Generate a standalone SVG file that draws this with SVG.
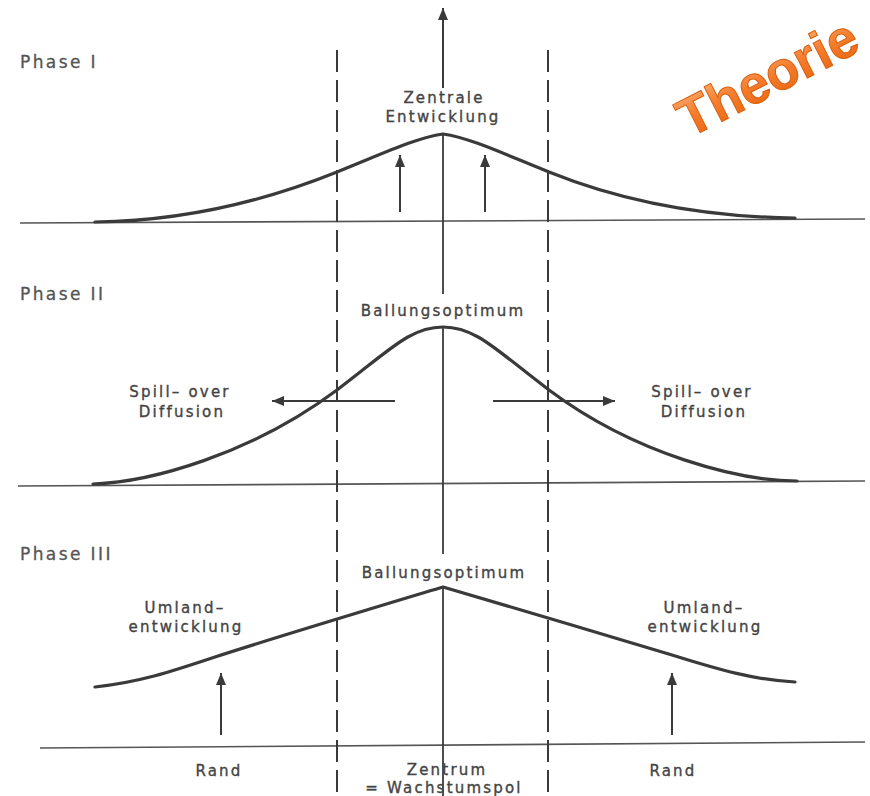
<svg xmlns="http://www.w3.org/2000/svg" width="870" height="796" viewBox="0 0 870 796">
<defs>
<marker id="ah" markerUnits="userSpaceOnUse" markerWidth="14" markerHeight="12" refX="12" refY="5" orient="auto">
<path d="M0,0 L12,5 L0,10 z" fill="#3a3a3a"/>
</marker>
<linearGradient id="og" x1="0" y1="0" x2="0" y2="1">
<stop offset="0" stop-color="#FBB27A"/>
<stop offset="0.5" stop-color="#F47C2C"/>
<stop offset="1" stop-color="#E8650F"/>
</linearGradient>
</defs>
<style>
.t{font-family:"DejaVu Sans",sans-serif;font-size:15px;letter-spacing:2.2px;fill:#444;stroke:#444;stroke-width:0.35;text-anchor:middle}
.ph{font-family:"DejaVu Sans",sans-serif;font-size:17px;letter-spacing:2.4px;fill:#555;stroke:#555;stroke-width:0.3}
.curve{fill:none;stroke:#3a3a3a;stroke-width:3.2;stroke-linejoin:round;stroke-linecap:round}
.base{fill:none;stroke:#555;stroke-width:1.6}
.axis{fill:none;stroke:#3a3a3a;stroke-width:1.8}
.dash{fill:none;stroke:#3a3a3a;stroke-width:2;stroke-dasharray:22 8}
.arr{fill:none;stroke:#3a3a3a;stroke-width:2;marker-end:url(#ah)}
</style>
<rect width="870" height="796" fill="#fff"/>

<g id="title">
<text x="776" y="94" transform="rotate(-27 776 94)" font-family="'Liberation Sans',sans-serif" font-weight="bold" font-size="54" text-anchor="middle" fill="url(#og)" stroke="#D9600E" stroke-width="1">Theorie</text>
</g>

<g id="connectors">
<line class="base" x1="20" y1="223" x2="865" y2="219"/>
<line class="base" x1="18" y1="486" x2="865" y2="481"/>
<line class="base" x1="40" y1="748" x2="865" y2="742"/>
<line class="dash" x1="337" y1="50" x2="337" y2="796"/>
<line class="dash" x1="548" y1="50" x2="548" y2="796"/>
<line class="arr" x1="443" y1="88" x2="443" y2="8"/>
<line class="axis" x1="443" y1="134" x2="443" y2="294"/>
<line class="axis" x1="443" y1="327" x2="443" y2="554"/>
<line class="axis" x1="443" y1="587" x2="443" y2="796"/>
<path class="curve" d="M95,222 C180,221 260,203 337,172 C380,155 415,138 443,134 C471,138 506,155 549,172 C626,203 706,217 795,218"/>
<path class="curve" d="M93,484 C150,482 250,455 337,390 C390,350 410,327 443,327 C476,327 496,350 549,390 C636,455 740,481 797,481"/>
<path class="curve" d="M95,687 C140,682 170,672 215,657 C280,636 380,606 443,587 C510,607 600,633 672,655 C720,670 755,680 795,682"/>
<line class="arr" x1="400" y1="212" x2="400" y2="155"/>
<line class="arr" x1="485" y1="212" x2="485" y2="155"/>
<line class="arr" x1="395" y1="401" x2="272" y2="401"/>
<line class="arr" x1="493" y1="401" x2="615" y2="401"/>
<line class="arr" x1="221" y1="735" x2="221" y2="673"/>
<line class="arr" x1="672" y1="735" x2="672" y2="673"/>
</g>

<g id="phase1">
<text class="ph" x="20" y="68">Phase I</text>
<text class="t" x="444" y="103">Zentrale</text>
<text class="t" x="443" y="122">Entwicklung</text>
</g>

<g id="phase2">
<text class="ph" x="20" y="300">Phase II</text>
<text class="t" x="443" y="316">Ballungsoptimum</text>
<text class="t" x="180" y="397">Spill– over</text>
<text class="t" x="182" y="417">Diffusion</text>
<text class="t" x="702" y="397">Spill– over</text>
<text class="t" x="704" y="417">Diffusion</text>
</g>

<g id="phase3">
<text class="ph" x="20" y="560">Phase III</text>
<text class="t" x="444" y="578">Ballungsoptimum</text>
<text class="t" x="185" y="613">Umland–</text>
<text class="t" x="186" y="632">entwicklung</text>
<text class="t" x="704" y="613">Umland–</text>
<text class="t" x="705" y="632">entwicklung</text>
</g>

<g id="bottom">
<text class="t" x="219" y="776">Rand</text>
<text class="t" x="673" y="776">Rand</text>
<text class="t" x="447" y="775">Zentrum</text>
<text class="t" x="444" y="793">= Wachstumspol</text>
</g>
</svg>
